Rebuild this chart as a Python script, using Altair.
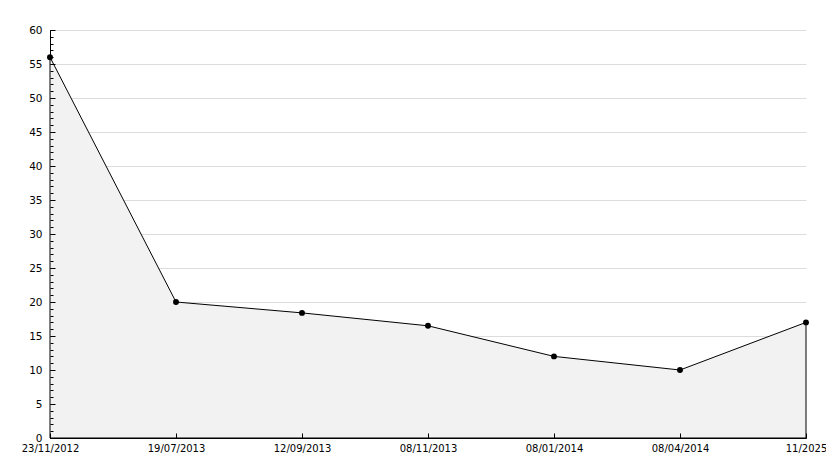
import altair as alt
import pandas as pd

labels = ["23/11/2012", "19/07/2013", "12/09/2013", "08/11/2013",
          "08/01/2014", "08/04/2014", "11/2025"]
values = [56, 20, 18.4, 16.5, 12, 10, 17]
major_ticks = list(range(0, 61, 5))
minor_ticks = list(range(0, 61, 1))

df = pd.DataFrame({"date": labels, "value": values})

FONT = "DejaVu Sans"
xscale = alt.Scale(type="point", padding=0)
yscale = alt.Scale(domain=[0, 60], nice=False, zero=True)

base = alt.Chart(df)

area = base.mark_area(fill="#f2f2f2", stroke="black", strokeWidth=1, interpolate="linear").encode(
    x=alt.X("date:N", sort=labels, scale=xscale,
            axis=alt.Axis(title=None, labelAngle=0, ticks=False, grid=False, orient="bottom",
                          domainColor="black", labelFont=FONT, labelFontSize=10,
                          labelColor="black", labelPadding=5)),
    y=alt.Y("value:Q", scale=yscale,
            axis=alt.Axis(title=None, values=major_ticks, ticks=False, grid=True, orient="left",
                          gridColor="#dcdcdc", domainColor="black", labelFont=FONT,
                          labelFontSize=10.5, labelColor="black", labelPadding=8)),
)

pts = base.mark_point(filled=True, color="black", size=35, shape="circle", opacity=1).encode(
    x=alt.X("date:N", sort=labels, scale=xscale,
            axis=alt.Axis(title=None, labels=False, domain=False, grid=False, orient="bottom",
                          offset=-5, tickSize=5, tickColor="black", zindex=1)),
    y=alt.Y("value:Q", scale=yscale,
            axis=alt.Axis(title=None, values=major_ticks, labels=False, domain=False, grid=False,
                          orient="left", offset=-5, tickSize=5, tickColor="black", zindex=1)),
)

minor = base.mark_point(opacity=0).encode(
    x=alt.X("date:N", sort=labels, scale=xscale, axis=None),
    y=alt.Y("value:Q", scale=yscale,
            axis=alt.Axis(title=None, values=minor_ticks, labels=False, domain=False, grid=False,
                          orient="left", offset=-3, tickSize=3, tickColor="black", zindex=1)),
)

chart = alt.layer(area, pts, minor).resolve_axis(
    x="independent", y="independent"
).properties(
    width=756, height=408,
    autosize=alt.AutoSizeParams(type="none"),
    padding={"left": 42, "top": 22, "right": 20, "bottom": 22},
).configure_view(stroke=None)

chart.save("out.html", embed_options={"renderer": "svg", "actions": False})
